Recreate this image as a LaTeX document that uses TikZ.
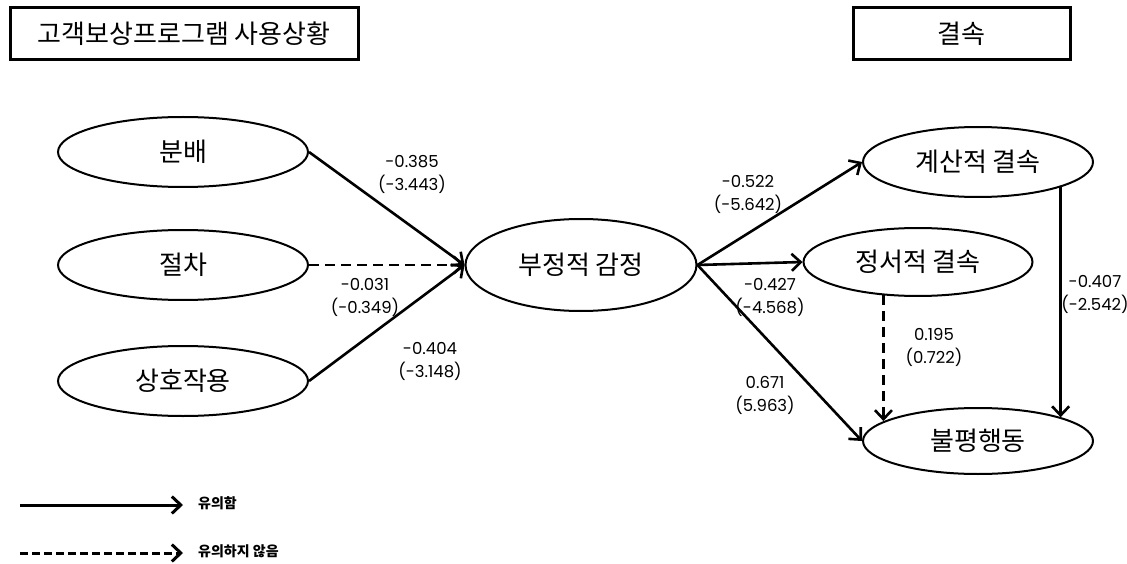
\documentclass[tikz,border=0pt]{standalone}
\usepackage{fontspec}
\newfontfamily\kr{Noto Sans CJK KR}
\newfontfamily\num{Poppins}
\usetikzlibrary{arrows.meta,shapes.geometric}
\tikzset{
  ell/.style={ellipse, draw, line width=2pt, inner sep=0pt, font=\kr\fontsize{26}{30}\selectfont},
  titlebox/.style={rectangle, draw, line width=3pt, inner sep=0pt, font=\kr\fontsize{26}{30}\selectfont},
  lab/.style={font=\num\fontsize{16.5}{18}\selectfont, inner sep=0pt, align=center},
  conn/.style={line width=2.6pt, -{Straight Barb[length=9pt,width=17pt]}},
  dconn/.style={conn, dash pattern=on 10pt off 6pt},
  legtext/.style={font=\kr\bfseries\fontsize{14}{16}\selectfont, anchor=west, inner sep=0pt}
}
\begin{document}
\begin{tikzpicture}[x=1pt,y=-1pt]
\useasboundingbox (0,0) rectangle (1127,564);
% title boxes
\node[titlebox, minimum width=348pt, minimum height=52pt] (t1) at (184,34) {고객보상프로그램 사용상황};
\node[titlebox, minimum width=217pt, minimum height=52pt] (t2) at (961.5,34) {결속};
% ellipses
\node[ell, minimum width=250pt, minimum height=70pt] (dist) at (183,152) {분배};
\node[ell, minimum width=250pt, minimum height=70pt] (proc) at (183,265) {절차};
\node[ell, minimum width=250pt, minimum height=70pt] (inter) at (183,381) {상호작용};
\node[ell, minimum width=231pt, minimum height=92pt] (neg) at (581,265) {부정적 감정};
\node[ell, minimum width=230pt, minimum height=70pt] (calc) at (978,162) {계산적 결속};
\node[ell, minimum width=229pt, minimum height=68pt] (emo) at (918,262) {정서적 결속};
\node[ell, minimum width=230pt, minimum height=66pt] (comp) at (978,441) {불평행동};
% connectors
\draw[conn] (dist.east) -- (neg.west);
\draw[dconn] (proc.east) -- (neg.west);
\draw[conn] (inter.east) -- (neg.west);
\draw[conn] (neg.east) -- (calc.west);
\draw[conn] (neg.east) -- (emo.west);
\draw[conn] (neg.east) -- (comp.west);
\draw[dconn] (emo.-136) -- (emo.-136 |- comp.168.6);
\draw[conn] (calc.-17) -- (calc.-17 |- comp.16);
% labels
\node[lab] (l1) at (412,174) {-0.385\\[5pt](-3.443)};
\node[lab] (l2) at (365,297) {-0.031\\[5pt](-0.349)};
\node[lab] (l3) at (430,361) {-0.404\\[5pt](-3.148)};
\node[lab] (l4) at (748,194) {-0.522\\[5pt](-5.642)};
\node[lab] (l5) at (770,297) {-0.427\\[5pt](-4.568)};
\node[lab] (l6) at (765,395) {0.671\\[5pt](5.963)};
\node[lab] (l7) at (934,347) {0.195\\[5pt](0.722)};
\node[lab] (l8) at (1095,294) {-0.407\\[5pt](-2.542)};
% legend
\coordinate (a1) at (20,505);
\coordinate (a2) at (183,505);
\coordinate (b1) at (20,553);
\coordinate (b2) at (183,553);
\draw[conn, line width=3pt] (a1) -- (a2);
\draw[conn, line width=3pt, dash pattern=on 8pt off 4pt] (b1) -- (b2);
\node[legtext] (lg1) at (198,503) {유의함};
\node[legtext] (lg2) at (198,551) {유의하지 않음};
\end{tikzpicture}
\end{document}
